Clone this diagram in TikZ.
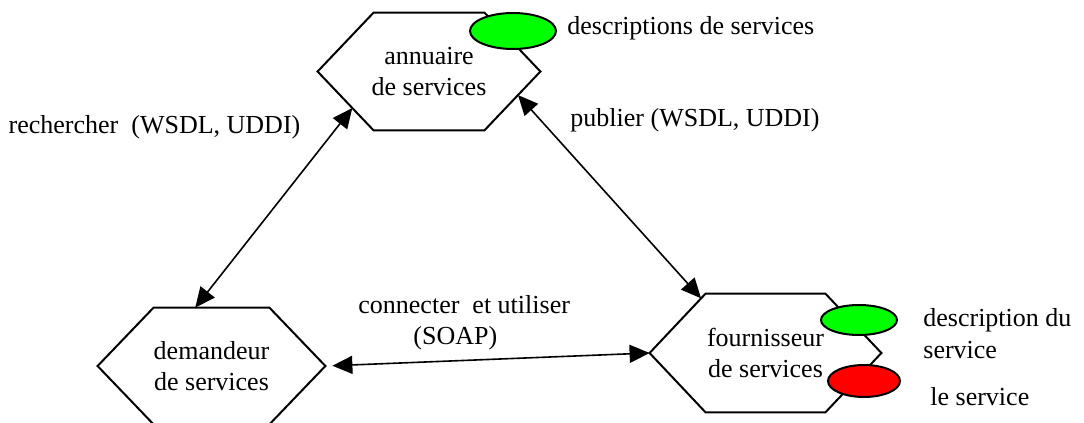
\documentclass[tikz,border=0pt]{standalone}
\usepackage{fontspec}
\setmainfont{Liberation Serif}
\usetikzlibrary{positioning,shapes.geometric,arrows.meta,calc}

\begin{document}
\begin{tikzpicture}[x=0.5pt,y=-0.5pt,
        font=\fontsize{13}{15.5}\selectfont,
        hexa/.style={rectangle, inner sep=0pt, align=center},
        hexline/.style={draw, line width=1pt, line join=miter},
        blob/.style={draw, ellipse, line width=1pt, inner sep=0pt},
        lbl/.style={inner sep=0pt, align=left},
        arrow/.style={{Triangle[length=10pt,width=9pt]}-{Triangle[length=10pt,width=9pt]}, line width=0.8pt}
    ]
        \useasboundingbox (0,0) rectangle (1084,423);

        % the three roles
        \node[hexa, minimum width=111pt, minimum height=58.5pt] (ann) at (429,71.5) {annuaire\\de services};
        \node[hexa, minimum width=113.5pt, minimum height=58pt] (dem) at (211.5,366) {demandeur\\de services};
        \node[hexa, minimum width=115.5pt, minimum height=59pt] (fou) at (765.5,353) {fournisseur\\de services};

        \foreach \n in {ann,dem,fou}
            \draw[hexline] (\n.west) -- ([xshift=28pt]\n.north west) -- ([xshift=-28pt]\n.north east)
                -- (\n.east) -- ([xshift=-28pt]\n.south east) -- ([xshift=28pt]\n.south west) -- cycle;

        % points on the edges where the arrows meet
        \coordinate (ann-sw) at ($(ann.west)!0.62!([xshift=28pt]ann.south west)$);
        \coordinate (ann-se) at ($(ann.east)!0.40!([xshift=-28pt]ann.south east)$);
        \coordinate (dem-n) at ($([xshift=28pt]dem.north west)!0.36!([xshift=-28pt]dem.north east)$);
        \coordinate (fou-nw) at ($(fou.west)!0.92!([xshift=28pt]fou.north west)$);

        % descriptions and service
        \node[blob, fill=green, minimum width=43pt, minimum height=18pt] (desc) at (513,31) {};
        \node[blob, fill=green, minimum width=38pt, minimum height=15pt] (fdesc) at (859,320) {};
        \node[blob, fill=red, minimum width=36pt, minimum height=16pt] (serv) at (864,381) {};

        \node[lbl, anchor=west] (descl) at (567,28) {descriptions de services};
        \node[lbl, anchor=west, font=\fontsize{13}{16}\selectfont] (fdescl) at (923,334) {description du\\service};
        \node[lbl, anchor=west] (servl) at (930,397) {le service};

        % exchanges
        \draw[arrow] (ann-sw) -- (dem-n);
        \draw[arrow] (ann-se) -- (fou-nw);
        \draw[arrow, shorten <=3.5pt] (dem.east) -- (fou.west);

        \node[lbl] (rech) at (154.5,127) {rechercher\ \ (WSDL, UDDI)};
        \node[lbl] (pub) at (695,120) {publier (WSDL, UDDI)};
        \node[lbl, anchor=west] (conn) at (358,322.5) {connecter\ \ et utiliser\\\hspace*{27.5pt}(SOAP)};
    \end{tikzpicture}
\end{document}
